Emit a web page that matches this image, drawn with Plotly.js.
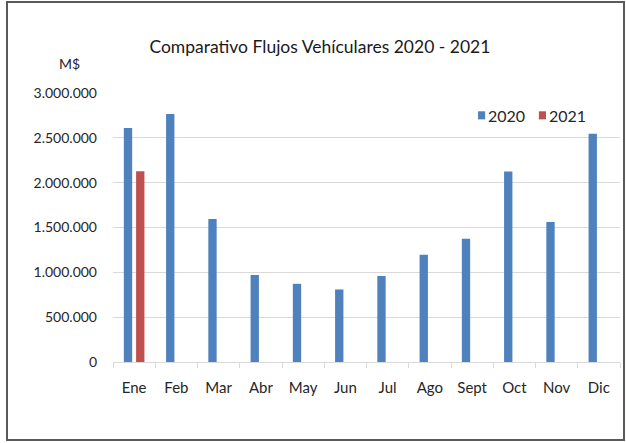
<!DOCTYPE html>
<html>
<head>
<meta charset="utf-8">
<script src="https://cdn.plot.ly/plotly-3.0.1.min.js"></script>
<style>
  html, body { margin: 0; padding: 0; background: #ffffff; }
  #wrap { position: relative; width: 626px; height: 443px; }
  #chart { width: 626px; height: 443px; }
  #frame { position: absolute; left: 6px; top: 1px; width: 615px; height: 436px;
           border: 2px solid #5a5a5a; pointer-events: none; }
</style>
</head>
<body>
<div id="wrap">
  <div id="chart"></div>
  <div id="frame"></div>
</div>
<script>
const months = ["Ene", "Feb", "Mar", "Abr", "May", "Jun", "Jul", "Ago", "Sept", "Oct", "Nov", "Dic"];
const values2020 = [2609000, 2765000, 1595000, 969000, 872000, 809000, 958000, 1196000, 1375000, 2124000, 1561000, 2545000];
const values2021 = [2128000, null, null, null, null, null, null, null, null, null, null, null];
const seriesNames = ["2020", "2021"];
const seriesColors = ["#4f81bd", "#c0504d"];
const yTicks = [0, 500000, 1000000, 1500000, 2000000, 2500000, 3000000];

const FONT = "Lato, Open Sans, sans-serif";

const data = [
  { type: "bar", name: seriesNames[0], x: months, y: values2020,
    marker: { color: seriesColors[0] }, hoverinfo: "x+y" },
  { type: "bar", name: seriesNames[1], x: months, y: values2021,
    marker: { color: seriesColors[1] }, hoverinfo: "x+y" }
];

// Compact legend (Excel style): swatch + label per series
const legendX = [0.720, 0.840];
const shapes = [];
const annotations = [
  { text: "M$", xref: "paper", yref: "paper", x: -0.085, y: 1.11, xanchor: "center", yanchor: "middle",
    showarrow: false, font: { family: FONT, size: 14, color: "#262626" } }
];
seriesNames.forEach((name, i) => {
  shapes.push({ type: "rect", xref: "paper", yref: "paper",
                x0: legendX[i], x1: legendX[i] + 0.014, y0: 0.902, y1: 0.932,
                fillcolor: seriesColors[i], line: { width: 0 } });
  annotations.push({ text: name, xref: "paper", yref: "paper", x: legendX[i] + 0.016, y: 0.917,
                     xanchor: "left", yanchor: "middle", showarrow: false,
                     font: { family: FONT, size: 16, color: "#262626" } });
});

const layout = {
  width: 626, height: 443,
  margin: { l: 113, r: 6, t: 93, b: 81, pad: 0, autoexpand: false },
  paper_bgcolor: "#ffffff", plot_bgcolor: "#ffffff",
  separators: ",.",
  font: { family: FONT, size: 15, color: "#262626" },
  barmode: "group", bargap: 0.42, bargroupgap: 0.32,
  title: { text: "Comparativo Flujos Vehículares 2020 - 2021",
           font: { family: FONT, size: 17.5, color: "#1a1a1a" },
           x: 0.511, xanchor: "center", y: 0.894, yanchor: "middle", xref: "container", yref: "container" },
  xaxis: { type: "category", showgrid: false, showline: true, linecolor: "#d9d9d9", linewidth: 1,
           ticks: "outside", tickson: "boundaries", ticklen: 5, tickcolor: "#d9d9d9",
           tickangle: 0, automargin: false, ticklabelstandoff: 12,
           tickfont: { family: FONT, size: 15, color: "#262626" }, zeroline: false },
  yaxis: { range: [0, 3000000], tickvals: yTicks, tickformat: ",d", automargin: false,
           showgrid: true, gridcolor: "#d9d9d9", gridwidth: 1, showline: false, zeroline: false,
           ticks: "", ticklabelstandoff: 15,
           tickfont: { family: FONT, size: 14, color: "#262626" } },
  shapes: shapes,
  annotations: annotations,
  showlegend: false
};

Plotly.newPlot("chart", data, layout, { displayModeBar: false, staticPlot: true });
</script>
</body>
</html>
